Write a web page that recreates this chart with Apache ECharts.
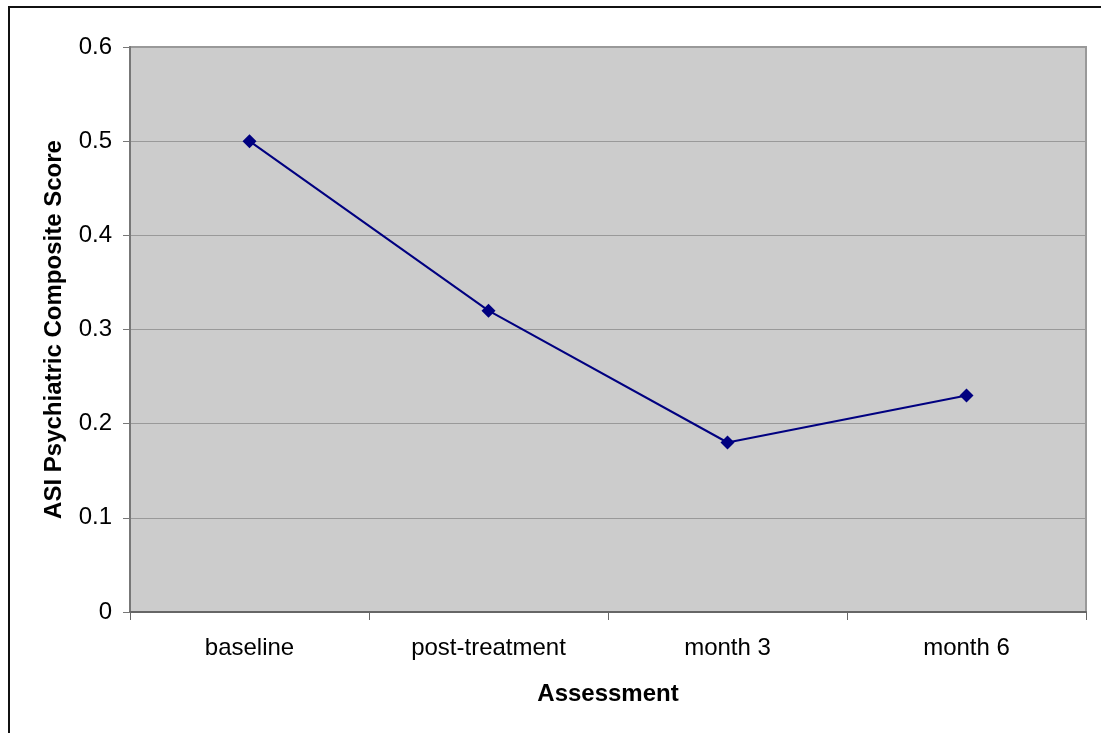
<!DOCTYPE html>
<html>
<head>
<meta charset="utf-8">
<script src="https://cdn.jsdelivr.net/npm/echarts@6/dist/echarts.min.js"></script>
<style>
html,body{margin:0;padding:0;background:#fff;}
#chart{width:1101px;height:733px;}
</style>
</head>
<body>
<div id="chart"></div>
<script>
const categories = ['baseline', 'post-treatment', 'month 3', 'month 6'];
const scores = [0.5, 0.32, 0.18, 0.23];
const yTicks = { min: 0, max: 0.6, interval: 0.1 };
const xTitle = 'Assessment';
const yTitle = 'ASI Psychiatric Composite Score';

const chart = echarts.init(document.getElementById('chart'), null, { renderer: 'canvas' });
const font = '"Liberation Sans", Arial, sans-serif';
chart.setOption({
  animation: false,
  backgroundColor: '#ffffff',
  graphic: [{
    type: 'rect',
    shape: { x: 9, y: 7, width: 1200, height: 800 },
    style: { fill: 'none', stroke: '#111', lineWidth: 2 },
    silent: true
  }],
  grid: {
    left: 130, right: 15, top: 47, bottom: 121,
    show: true, backgroundColor: '#cccccc', borderColor: '#999999', borderWidth: 2
  },
  xAxis: {
    type: 'category',
    data: categories,
    boundaryGap: true,
    name: xTitle,
    nameLocation: 'middle',
    nameGap: 70,
    nameTextStyle: { fontFamily: font, fontSize: 24, fontWeight: 'bold', color: '#000' },
    axisLine: { show: true, lineStyle: { color: '#666', width: 2 } },
    axisTick: { show: true, length: 8, alignWithLabel: false, lineStyle: { color: '#666', width: 1 } },
    axisLabel: { fontFamily: font, fontSize: 24, color: '#000', margin: 24 },
    splitLine: { show: false }
  },
  yAxis: {
    type: 'value',
    min: yTicks.min, max: yTicks.max, interval: yTicks.interval,
    name: yTitle,
    nameLocation: 'middle',
    nameGap: 64,
    nameTextStyle: { fontFamily: font, fontSize: 24, fontWeight: 'bold', color: '#000' },
    axisLine: { show: true, lineStyle: { color: '#777', width: 2 } },
    axisTick: { show: true, length: 7, lineStyle: { color: '#777', width: 1 } },
    axisLabel: {
      fontFamily: font, fontSize: 24, color: '#000', margin: 18,
      formatter: v => (Math.round(v * 10) / 10).toString()
    },
    splitLine: { show: true, lineStyle: { color: '#999999', width: 1 } }
  },
  series: [{
    type: 'line',
    data: scores,
    symbol: 'diamond',
    symbolSize: 14,
    lineStyle: { color: '#000080', width: 2 },
    itemStyle: { color: '#000080' }
  }]
});
</script>
</body>
</html>
